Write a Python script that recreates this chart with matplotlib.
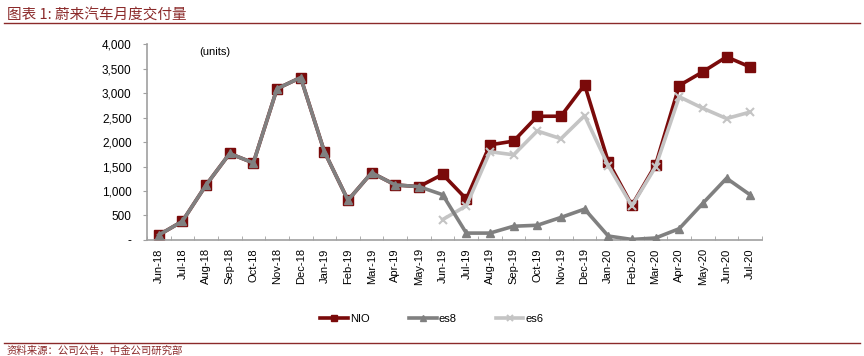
import matplotlib
matplotlib.use("Agg")
import matplotlib.pyplot as plt
from matplotlib.ticker import FuncFormatter
from matplotlib.lines import Line2D

plt.rcParams['font.family'] = ['Liberation Sans', 'Noto Sans CJK SC', 'DejaVu Sans']

MONTHS = [
    "Jun-18", "Jul-18", "Aug-18", "Sep-18", "Oct-18", "Nov-18", "Dec-18",
    "Jan-19", "Feb-19", "Mar-19", "Apr-19", "May-19", "Jun-19", "Jul-19",
    "Aug-19", "Sep-19", "Oct-19", "Nov-19", "Dec-19", "Jan-20", "Feb-20",
    "Mar-20", "Apr-20", "May-20", "Jun-20", "Jul-20",
]

NIO = [100, 381, 1121, 1766, 1573, 3089, 3318, 1805, 811, 1373, 1124, 1089,
       1340, 837, 1943, 2019, 2526, 2528, 3170, 1598, 707, 1533, 3155, 3436,
       3740, 3533]

ES8 = [100, 381, 1121, 1766, 1573, 3089, 3318, 1805, 811, 1373, 1124, 1089,
       924, 140, 140, 280, 300, 460, 630, 80, 10, 40, 230, 750, 1260, 920]

# es6 starts Jun-19
ES6_START = 12
ES6 = [416, 697, 1803, 1739, 2226, 2068, 2540, 1518, 697, 1493, 2925, 2690,
       2480, 2613]

TITLE = "图表 1: 蔚来汽车月度交付量"
SOURCE = "资料来源：公司公告，中金公司研究部"

RED = "#7a0a0a"
DARK_GRAY = "#808080"
LIGHT_GRAY = "#c4c4c4"
TITLE_RED = "#8b2a2a"

fig = plt.figure(figsize=(8.64, 3.56), dpi=100)
ax = fig.add_axes([0.170, 0.326, 0.712, 0.550])

x = list(range(len(MONTHS)))
x_es6 = x[ES6_START:]

ax.plot(x, NIO, color=RED, lw=2.6, marker="s", ms=6.5, zorder=2)
ax.plot(x_es6, ES6, color=LIGHT_GRAY, lw=2.6, marker="x", ms=6, mew=1.5, zorder=3)
ax.plot(x, ES8, color=DARK_GRAY, lw=2.6, marker="^", ms=5.5, zorder=4)

ax.set_xlim(-0.5, len(MONTHS) - 0.5)
ax.set_ylim(0, 4000)
ax.set_yticks(range(0, 4001, 500))
ax.yaxis.set_major_formatter(FuncFormatter(lambda v, p: "-" if v == 0 else f"{int(v):,}"))

ax.set_xticks(x)
ax.set_xticklabels(MONTHS, rotation=90, fontsize=8)
ax.set_xticks([i - 0.5 for i in range(len(MONTHS) + 1)], minor=True)
ax.tick_params(axis="x", which="major", length=0, pad=6)
ax.tick_params(axis="x", which="minor", length=3, direction="in", color="#a0a0a0")
ax.tick_params(axis="y", labelsize=8.5, length=3, color="#a0a0a0", pad=8)

for side in ["top", "right"]:
    ax.spines[side].set_visible(False)
for side in ["left", "bottom"]:
    ax.spines[side].set_color("#a0a0a0")
    ax.spines[side].set_linewidth(1.2)

ax.text(0.085, 0.985, "(units)", transform=ax.transAxes, fontsize=8, va="top")

handles = [
    Line2D([], [], color=RED, lw=2.6, marker="s", ms=5),
    Line2D([], [], color=DARK_GRAY, lw=2.6, marker="^", ms=5),
    Line2D([], [], color=LIGHT_GRAY, lw=2.6, marker="x", ms=5, mew=1.5),
]
fig.legend(handles, ["NIO", "es8", "es6"], loc="center", bbox_to_anchor=(0.5, 0.105),
           ncol=3, frameon=False, fontsize=8, handlelength=2.5, columnspacing=3.5,
           handletextpad=0.2)

# title and source with rules
fig.text(0.008, 0.975, TITLE, fontsize=10.5, color=TITLE_RED, style="italic",
         va="top", family=["Noto Sans CJK SC", "DejaVu Sans"])
fig.add_artist(Line2D([0.005, 0.995], [0.935, 0.935], color=TITLE_RED, lw=1.0))
fig.add_artist(Line2D([0.005, 0.995], [0.037, 0.037], color=TITLE_RED, lw=1.0))
fig.text(0.008, 0.028, SOURCE, fontsize=7.5, color=TITLE_RED, style="italic",
         va="top", family=["Noto Sans CJK SC", "DejaVu Sans"])

fig.savefig("out.png", dpi=100)
